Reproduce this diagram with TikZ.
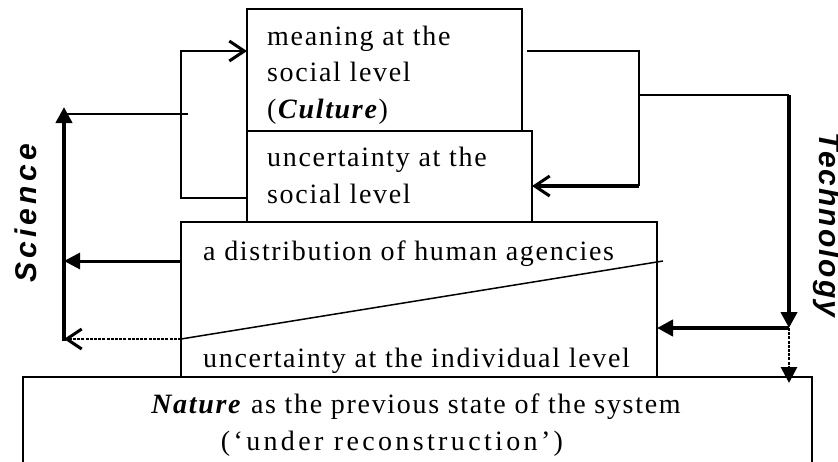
\documentclass[tikz,border=0pt]{standalone}
\usepackage{fontspec}
\setmainfont{Liberation Serif}[LetterSpace=6]
\newfontfamily\scifont{Liberation Sans}[LetterSpace=14]
\newfontfamily\techfont{Liberation Sans}[LetterSpace=6.5]
\usetikzlibrary{arrows.meta,calc}
\begin{document}
\begin{tikzpicture}[x=1pt,y=-1pt,
  box/.style={draw, line width=1.5pt, inner sep=0pt, outer sep=0pt},
  txt/.style={inner sep=0pt, align=left, font=\fontsize{28}{36.5}\selectfont},
  sidelabel/.style={inner sep=0pt},
  thinline/.style={line width=1.5pt},
  thickline/.style={line width=4pt},
  midline/.style={line width=3pt},
  openhead/.style={-{Straight Barb[length=15pt,width=20pt,line width=3pt]}},
  fillhead/.style={-{Triangle[length=16pt,width=16pt]}},
  dots/.style={line width=2.8pt, dash pattern=on 3pt off 1.2pt}
]
\useasboundingbox (0,0) rectangle (838,461);

% boxes
\node[box, minimum width=275pt, minimum height=122pt] (meaning) at (384.5,70) {};
\node[box, minimum width=285pt, minimum height=91pt] (ucs) at (389.5,176.5) {};
\node[box, minimum width=476pt, minimum height=155pt] (dist) at (419,299.5) {};
\node[box, minimum width=789pt, minimum height=110pt] (nature) at (417.5,432) {};

% texts (base anchor = baseline of the last line)
\node[txt, anchor=base west] (tMeaning) at (267,118) {meaning at the\\social level\\(\textbf{\textit{Culture}})};
\node[txt, anchor=base west] (tUcs) at (267,203) {uncertainty at the\\social level};
\node[txt, anchor=base west] (tDist) at (203,260) {a distribution of human agencies};
\node[txt, anchor=base west] (tInd) at (203,367) {uncertainty at the individual level};
\node[txt, align=center, anchor=base] (tNature) at (416,450) {\textbf{\textit{Nature}} as the previous state of the system\\{\addfontfeatures{LetterSpace=12}(‘under reconstruction’)}\hspace*{48pt}};

\node[sidelabel, rotate=90, anchor=base west, font=\fontsize{30}{32}\selectfont\scifont\bfseries\itshape] (sci) at (36,283) {Science};
\node[sidelabel, rotate=-90, anchor=base west, font=\fontsize{30}{32}\selectfont\techfont\bfseries\itshape] (tech) at (819,132) {Technology};

% coordinates
\coordinate (lbTop) at (181,51);
\coordinate (lbBot) at (181,198);
\coordinate (lbStub) at (188,114);
\coordinate (sciJoin) at (64,114);
\coordinate (sciTop) at (64,107);
\coordinate (sciBot) at (64,341);
\coordinate (sciMid) at (64,261);
\coordinate (sciLow) at (64,339);
\coordinate (diagEnd) at (663,261);
\coordinate (rbTop) at (639,51);
\coordinate (rbMid) at (639,95);
\coordinate (rbBot) at (639,186);
\coordinate (techTop) at (789,95);
\coordinate (techArr) at (789,328);

% left side
\draw[thinline, openhead] (ucs.west |- lbBot) -- (lbBot) -- (lbTop) -- (meaning.west |- lbTop);
\draw[thinline] (lbStub) -- (sciJoin);
\draw[thickline, fillhead] (sciBot) -- (sciTop);
\draw[midline, fillhead] (dist.west |- sciMid) -- (sciMid);
\draw[dots, openhead] (dist.west |- sciLow) -- (sciLow);
\draw[thinline] (dist.west |- sciLow) -- (diagEnd);

% right side
\draw[thinline] ($(meaning.east |- rbTop)+(5,0)$) -- (rbTop) -- (rbBot);
\draw[thickline, openhead] (rbBot) -- (ucs.east |- rbBot);
\draw[thinline] (rbMid) -- (techTop);
\draw[thickline, fillhead] (techTop) -- (techArr);
\draw[thickline, fillhead] (techArr) -- (dist.east |- techArr);
\draw[dots, fillhead] (techArr) -- ($(nature.north -| techArr)+(0,6)$);
\end{tikzpicture}
\end{document}
